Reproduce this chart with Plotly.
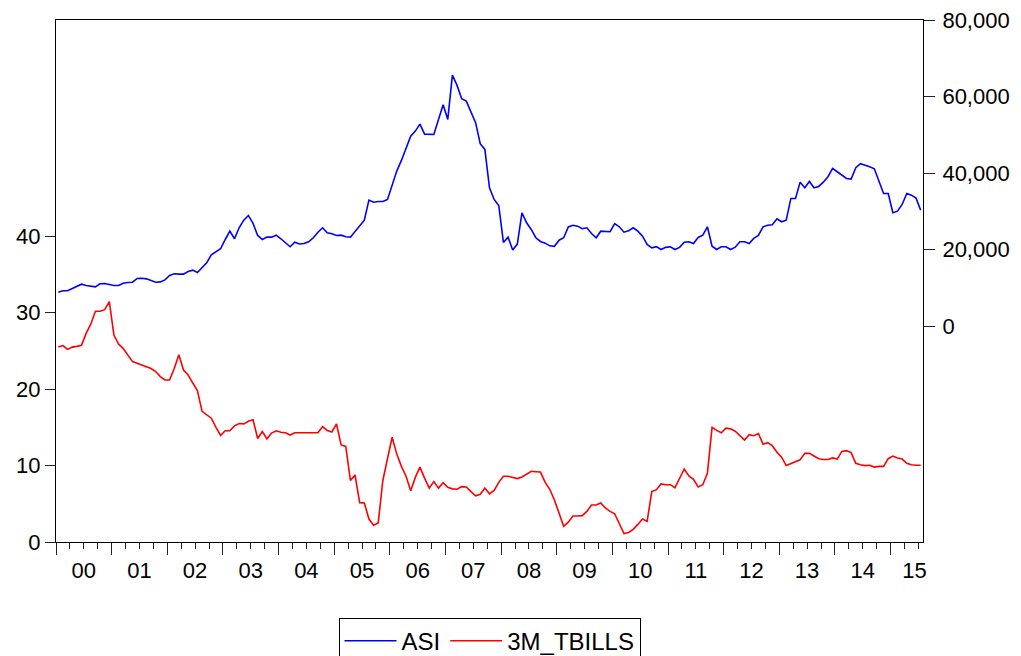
import plotly.graph_objects as go

# Monthly observations, 2000M01 .. 2015M07
START_YEAR = 2000

asi = [
    8890, 9250, 9250, 9780, 10300, 10980, 10640, 10380, 10300, 11080, 11170, 10900,      # 2000
    10640, 10640, 11240, 11410, 11500, 12470, 12550, 12380, 11850, 11500, 11590, 12110,  # 2001
    13250, 13690, 13600, 13600, 14300, 14650, 14040, 15340, 16570, 18660, 19340, 20230,  # 2002
    22660, 24830, 22850, 25720, 27710, 28940, 26850, 23710, 22660, 23270, 23270, 23790,  # 2003
    22850, 21800, 20760, 21960, 21500, 21600, 22060, 23110, 24570, 25720, 24410, 24150,  # 2004
    23710, 23790, 23370, 23270, 24680, 26140, 27710, 32940, 32410, 32590, 32590, 33120,  # 2005
    36780, 40520, 43310, 46790, 49670, 50970, 52800, 50190, 50100, 50100, 54030, 57870,  # 2006
    54030, 65610, 62920, 59440, 58820, 55940, 53170, 47680, 46190, 36180, 33120, 31550,  # 2007
    21880, 23270, 19920, 21450, 29640, 27030, 25280, 23110, 22140, 21700, 21000, 20870,  # 2008
    22480, 23110, 25930, 26360, 26140, 25460, 25720, 24230, 23110, 24830, 24680, 24680,  # 2009
    26800, 25980, 24570, 24970, 25720, 24830, 23530, 21360, 20490, 20800, 20050, 20600,  # 2010
    20750, 20050, 20600, 21960, 22060, 21600, 23190, 23790, 25980, 20910, 20050, 20760,  # 2011
    20760, 20050, 20650, 22060, 22060, 21620, 22930, 23710, 25980, 26400, 26490, 28070,  # 2012
    27290, 27710, 33380, 33380, 37640, 36180, 37830, 36180, 36520, 37640, 39050, 41220,  # 2013
    40360, 39390, 38610, 38430, 41410, 42450, 42100, 41670, 41140, 37640, 34690, 34690,  # 2014
    29640, 30060, 31810, 34690, 34240, 33460, 30320,                                     # 2015
]

tbills = [
    25.5, 25.7, 25.2, 25.5, 25.6, 25.75, 27.3, 28.5, 30.2, 30.2, 30.4, 31.45,     # 2000
    27.05, 25.9, 25.3, 24.4, 23.6, 23.4, 23.2, 22.9, 22.7, 22.3, 21.65, 21.2,     # 2001
    21.2, 22.7, 24.5, 22.5, 21.85, 20.8, 19.8, 17.1, 16.6, 16.2, 15.0, 13.95,     # 2002
    14.55, 14.55, 15.2, 15.5, 15.45, 15.8, 16.0, 13.55, 14.45, 13.5, 14.25, 14.55,  # 2003
    14.35, 14.3, 14.0, 14.3, 14.3, 14.3, 14.3, 14.3, 14.3, 15.1, 14.6, 14.4,      # 2004
    15.45, 12.7, 12.5, 8.05, 8.75, 5.15, 5.1, 3.0, 2.2, 2.5, 8.05, 10.9,          # 2005
    13.7, 11.5, 9.9, 8.6, 6.7, 8.45, 9.8, 8.35, 7.05, 7.9, 7.05, 7.75,            # 2006
    7.15, 6.95, 6.9, 7.25, 7.2, 6.6, 6.05, 6.25, 7.05, 6.3, 6.75, 7.8,            # 2007
    8.6, 8.6, 8.5, 8.3, 8.5, 8.85, 9.25, 9.2, 9.15, 7.8, 6.9, 5.5,                # 2008
    3.85, 2.05, 2.6, 3.4, 3.4, 3.45, 4.0, 4.85, 4.85, 5.1, 4.45, 4.0,             # 2009
    3.7, 2.45, 1.1, 1.25, 1.65, 2.3, 3.0, 2.7, 6.6, 6.85, 7.6, 7.5,               # 2010
    7.5, 7.1, 8.35, 9.55, 8.65, 8.2, 7.2, 7.5, 9.0, 15.0, 14.6, 14.3,             # 2011
    14.9, 14.8, 14.5, 13.95, 13.35, 14.05, 13.9, 14.2, 12.8, 13.0, 12.6, 11.75,   # 2012
    11.1, 10.0, 10.25, 10.45, 10.75, 11.6, 11.6, 11.25, 10.9, 10.8, 10.8, 11.0,   # 2013
    10.85, 11.85, 11.95, 11.7, 10.3, 10.1, 10.0, 10.05, 9.8, 9.9, 9.9, 10.9,      # 2014
    11.25, 11.0, 10.85, 10.3, 10.1, 10.05, 10.05,                                 # 2015
]

year_ticks = list(range(2000, 2016))
year_labels = ["00", "01", "02", "03", "04", "05", "06", "07",
               "08", "09", "10", "11", "12", "13", "14", "15"]
label_pos = [y + 0.5 for y in range(2000, 2015)] + [2015.43]

left_ticks = [0, 10, 20, 30, 40]
right_ticks = [0, 20000, 40000, 60000, 80000]

x = [START_YEAR + (i + 0.5) / 12 for i in range(len(asi))]
x_end = START_YEAR + len(asi) / 12

FONT = "Arial, Liberation Sans, sans-serif"
TICK_FONT = dict(family=FONT, size=22, color="black")

fig = go.Figure()
fig.add_trace(go.Scatter(x=x, y=asi, name="ASI", mode="lines", xaxis="x", yaxis="y2",
                         line=dict(color="#0000FF", width=1.6)))
fig.add_trace(go.Scatter(x=x, y=tbills, name="3M_TBILLS", mode="lines", xaxis="x", yaxis="y",
                         line=dict(color="#FF0000", width=1.6)))
# empty helper trace so the year-label axis is rendered
fig.add_trace(go.Scatter(x=[None], y=[None], xaxis="x2", yaxis="y", mode="lines",
                         showlegend=False, hoverinfo="skip"))

fig.update_layout(
    width=1013, height=648,
    margin=dict(l=48, r=98, t=12, b=114, pad=0, autoexpand=False),
    paper_bgcolor="white", plot_bgcolor="white",
    font=dict(family=FONT, size=22, color="black"),
    showlegend=True,
    legend=dict(orientation="h", x=0.5, xanchor="center", y=-0.145, yanchor="top",
                bordercolor="black", borderwidth=1, font=dict(family=FONT, size=24),
                bgcolor="white", itemwidth=52),
    xaxis=dict(range=[START_YEAR, x_end], tickmode="array", tickvals=year_ticks,
               showticklabels=False, ticks="outside", ticklen=12, tickwidth=1,
               tickcolor="#222", showline=True, linecolor="black", linewidth=1,
               mirror=True, showgrid=False, zeroline=False,
               minor=dict(tick0=START_YEAR, dtick=0.25, ticks="outside", ticklen=6,
                          tickwidth=1, tickcolor="#222", showgrid=False)),
    xaxis2=dict(range=[START_YEAR, x_end], overlaying="x", anchor="y", side="bottom",
                tickmode="array", tickvals=label_pos, ticktext=year_labels,
                ticks="outside", ticklen=9, tickcolor="rgba(0,0,0,0)",
                tickfont=TICK_FONT, showline=False, showgrid=False, zeroline=False,
                ticklabeloverflow="allow"),
    yaxis=dict(range=[0, 68.3], tickmode="array", tickvals=left_ticks,
               ticks="outside", ticklen=10, tickwidth=1, tickcolor="#222",
               tickfont=TICK_FONT, showline=True, linecolor="black", linewidth=1,
               showgrid=False, zeroline=False),
    yaxis2=dict(range=[-56370, 80000], overlaying="y", side="right", anchor="x",
                tickmode="array", tickvals=right_ticks, tickformat=",",
                ticks="outside", ticklen=11, tickwidth=1, tickcolor="#222",
                tickfont=TICK_FONT, showline=True, linecolor="black", linewidth=1,
                showgrid=False, zeroline=False, ticklabeloverflow="allow",
                ticklabelstandoff=3),
)

fig.write_html("out.html")
